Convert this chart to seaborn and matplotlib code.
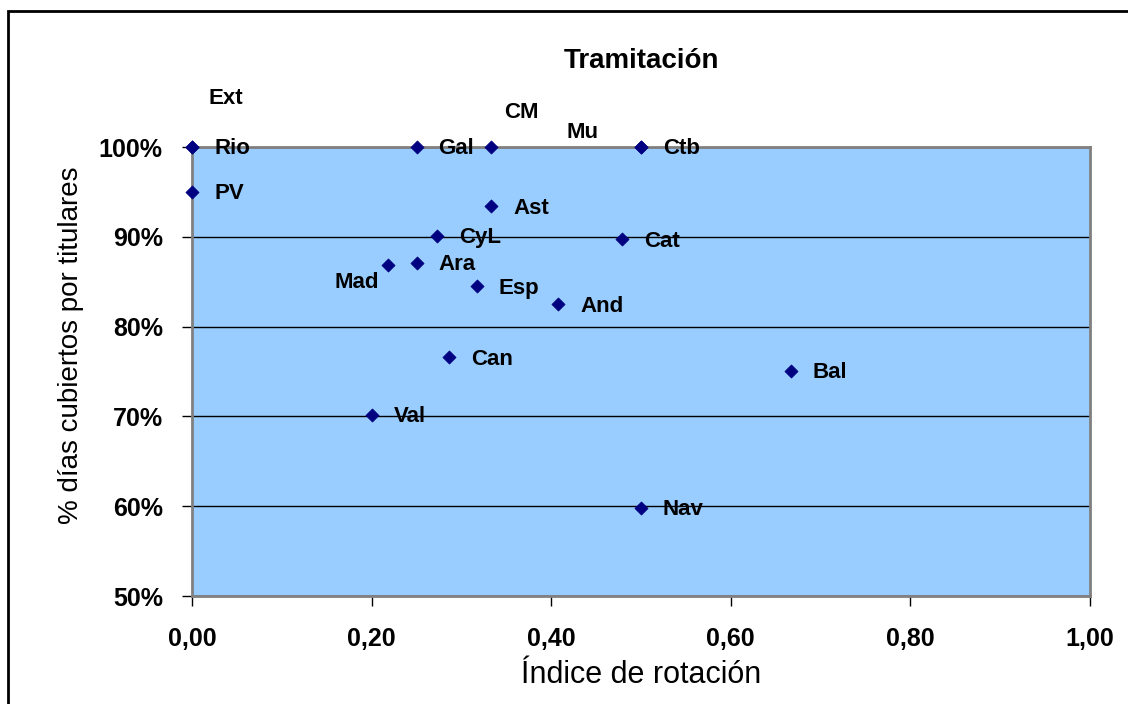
import numpy as np
import pandas as pd
import seaborn as sns
import matplotlib.pyplot as plt
from matplotlib.patches import Rectangle
from matplotlib.ticker import FuncFormatter

# Datos
regiones = ["Ext", "Rio", "PV", "Gal", "CM", "Mu", "Ctb", "Ast", "CyL", "Cat",
            "Mad", "Ara", "Esp", "And", "Can", "Bal", "Val", "Nav"]
rotacion = [0.0, 0.0, 0.0, 0.25, 0.333, 0.5, 0.5, 0.333, 0.273, 0.479,
            0.218, 0.25, 0.317, 0.408, 0.286, 0.667, 0.2, 0.5]
cobertura = [1.0, 1.0, 0.95, 1.0, 1.0, 1.0, 1.0, 0.934, 0.901, 0.897,
             0.869, 0.871, 0.845, 0.825, 0.766, 0.751, 0.702, 0.598]

df = pd.DataFrame({"region": regiones, "x": rotacion, "y": cobertura})

# desplazamiento de las etiquetas (pixeles) respecto al punto
offsets = {"Ext": (34, 48, "center"), "CM": (30, 34, "center"),
           "Mu": (-59, 14, "center"), "Mad": (-31, -18, "center")}

sns.set_theme(style="white")
plt.rcParams['font.family'] = ['Liberation Sans', 'DejaVu Sans']
plt.rcParams['text.color'] = 'black'
plt.rcParams['axes.labelcolor'] = 'black'
plt.rcParams['xtick.color'] = 'black'
plt.rcParams['ytick.color'] = 'black'

fig = plt.figure(figsize=(11.28, 7.04), dpi=100)
ax = fig.add_axes([192 / 1128, 1 - 596 / 704, 898 / 1128, 449 / 704])
ax.set_facecolor("#99ccff")

sns.scatterplot(data=df, x="x", y="y", ax=ax, marker="D", s=45,
                color="#000080", edgecolor="#000080", linewidth=0.5,
                clip_on=False, zorder=5)

for _, r in df.iterrows():
    dx, dy, ha = offsets.get(r["region"], (22, -2, "left"))
    ax.annotate(r["region"], (r["x"], r["y"]), xytext=(dx, dy),
                textcoords="offset pixels", ha=ha, va="center",
                fontsize=16, fontweight="bold", annotation_clip=False)

ax.set_xlim(0, 1)
ax.set_ylim(0.5, 1.0)
ax.set_xticks(np.arange(0, 1.01, 0.2))
ax.set_yticks(np.arange(0.5, 1.01, 0.1))
ax.xaxis.set_major_formatter(FuncFormatter(lambda v, p: f"{v:.2f}".replace(".", ",")))
ax.yaxis.set_major_formatter(FuncFormatter(lambda v, p: f"{v:.0%}"))
for t in ax.get_xticklabels() + ax.get_yticklabels():
    t.set_fontweight("bold")
ax.tick_params(axis="both", labelsize=18, direction="out", length=7,
               width=1, color="black", bottom=True, left=True)
ax.tick_params(axis="x", pad=15)
ax.tick_params(axis="y", pad=14)

ax.yaxis.grid(True, color="black", linewidth=1)
ax.xaxis.grid(False)
for s in ax.spines.values():
    s.set_color("#808080")
    s.set_linewidth(2)

ax.set_xlabel("Índice de rotación", fontsize=22, labelpad=7)
ax.set_ylabel("% días cubiertos por titulares", fontsize=20)
ax.yaxis.set_label_coords(-0.12, 0.559)
ax.set_title("Tramitación", fontsize=20, fontweight="bold", pad=57)

# marco exterior
fig.patches.append(Rectangle((8 / 1128, -0.1), 1.2, 1 - 11 / 704 + 0.1,
                             transform=fig.transFigure, fill=False,
                             edgecolor="black", linewidth=2))

fig.savefig("out.png", dpi=100)
